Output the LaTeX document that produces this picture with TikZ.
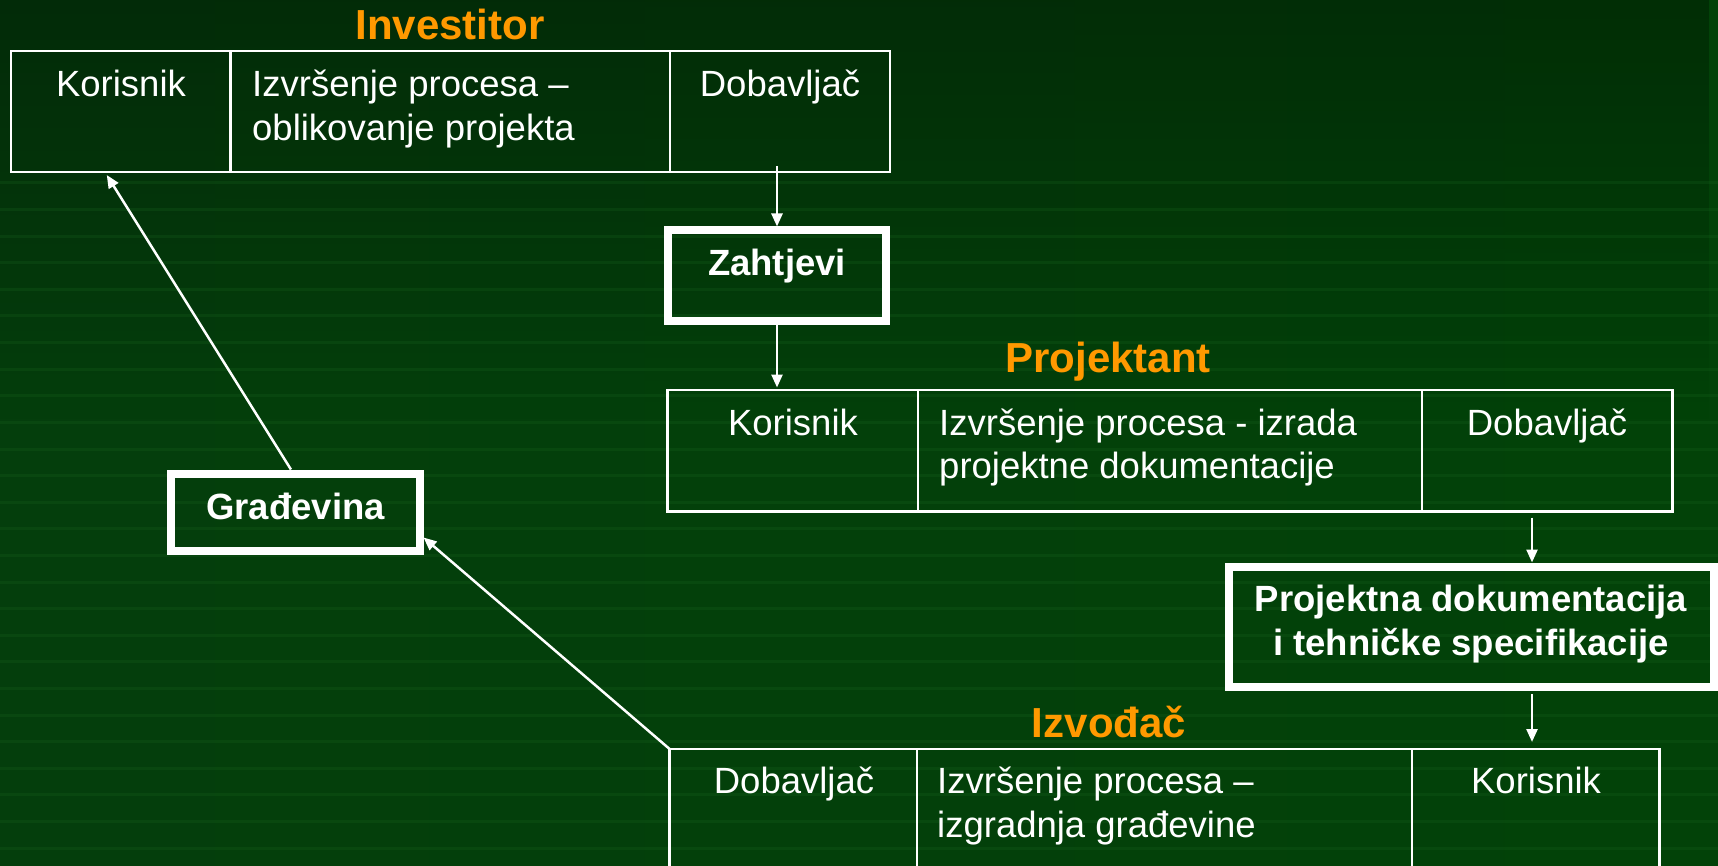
\documentclass[tikz,border=0pt]{standalone}
\usepackage{fontspec}
\setmainfont{Liberation Sans}
\usetikzlibrary{arrows.meta,fadings}

\definecolor{bgleft}{RGB}{4,62,12}
\definecolor{bgmid}{RGB}{0,34,4}
\definecolor{bgright}{RGB}{2,66,8}
\definecolor{streak}{RGB}{24,100,30}
\definecolor{titleorange}{RGB}{255,153,0}

\begin{document}
\begin{tikzpicture}[x=1pt,y=-1pt,
  cell/.style={draw=white, line width=2.5pt, outer sep=0pt, inner sep=0pt, anchor=north west},
  frame/.style={draw=white, line width=8pt, outer sep=4pt, inner sep=0pt},
  title/.style={text=titleorange, font=\fontsize{42}{50}\selectfont\bfseries, inner sep=0pt, anchor=base},
  txt/.style={text=white, font=\fontsize{36.5}{43.5}\selectfont, inner sep=0pt},
  boldtxt/.style={text=white, font=\fontsize{36.5}{44}\selectfont\bfseries, inner sep=0pt},
  arr/.style={draw=white, line width=2.5pt, -{Triangle[length=13pt,width=11pt]}}
]
\useasboundingbox (0,0) rectangle (1718,866);
\clip (0,0) rectangle (1718,866);

% background: green gradient, darker towards the top, with faint streaks
\shade[left color=bgleft, middle color=bgmid, right color=bgright] (0,0) rectangle (1718,866);
\fill[black, fill opacity=0.3, path fading=south] (0,0) rectangle (1718,420);
\foreach \k in {0,...,25} {
  \shade[left color=streak, middle color=bgmid, right color=streak, opacity=0.25]
    (0,{183+26.6*\k-1}) rectangle (1718,{183+26.6*\k+1});
}

% Investitor (multi-line texts are placed by the baseline of their last line)
\node[title] (invT) at (450,40) {Investitor};
\node[cell, minimum width=219.5pt, minimum height=121pt] (invK) at (11,51) {};
\node[cell, minimum width=439.5pt, minimum height=121pt] (invP) at (230.5,51) {};
\node[cell, minimum width=220pt, minimum height=121pt] (invD) at (670,51) {};
\node[txt, anchor=base] (invKt) at (121,97) {Korisnik};
\node[txt, anchor=base west, align=left] (invPt) at (252,140.5) {Izvršenje procesa –\\oblikovanje projekta};
\node[txt, anchor=base] (invDt) at (780,97) {Dobavljač};

% Zahtjevi
\node[frame, minimum width=218pt, minimum height=90.5pt] (zah) at (777,275.75) {};
\node[boldtxt, anchor=base] (zahT) at (777,276) {Zahtjevi};

% Projektant
\node[title] (projT) at (1108,373) {Projektant};
\node[cell, minimum width=250.5pt, minimum height=121.5pt] (projK) at (667.5,390) {};
\node[cell, minimum width=504pt, minimum height=121.5pt] (projP) at (918,390) {};
\node[cell, minimum width=250.5pt, minimum height=121.5pt] (projD) at (1422,390) {};
\node[txt, anchor=base] (projKt) at (793,435) {Korisnik};
\node[txt, anchor=base west, align=left] (projPt) at (939,478.5) {Izvršenje procesa - izrada\\projektne dokumentacije};
\node[txt, anchor=base] (projDt) at (1547,435) {Dobavljač};

% Projektna dokumentacija
\node[frame, minimum width=485.5pt, minimum height=120.5pt] (pdok) at (1471.25,626.75) {};
\node[boldtxt, anchor=base, align=center] (pdokT) at (1471,655) {Projektna dokumentacija\\i tehničke specifikacije};

% Izvođač
\node[title] (izvT) at (1109,737) {Izvođač};
\node[cell, minimum width=247.4pt, minimum height=160pt] (izvD) at (669.6,749) {};
\node[cell, minimum width=495pt, minimum height=160pt] (izvP) at (917,749) {};
\node[cell, minimum width=247.6pt, minimum height=160pt] (izvK) at (1412,749) {};
\node[txt, anchor=base] (izvDt) at (794,793) {Dobavljač};
\node[txt, anchor=base west, align=left] (izvPt) at (937,837) {Izvršenje procesa –\\izgradnja građevine};
\node[txt, anchor=base] (izvKt) at (1536,793) {Korisnik};

% Građevina
\node[frame, minimum width=248.1pt, minimum height=77pt] (grad) at (295.45,512) {};
\node[boldtxt, anchor=base] (gradT) at (295.5,519) {Građevina};

% connectors
\coordinate (colB) at (1532,0);
\coordinate (a1s) at (invD.south -| zah.north);
\coordinate (a2e) at (zah.south |- projK.north);
\coordinate (a3s) at (projD.south -| colB);
\coordinate (a3e) at (pdok.north -| colB);
\coordinate (a4s) at (pdok.south -| colB);
\coordinate (a4e) at (izvK.north -| colB);

\draw[arr] ([yshift=6pt]a1s) -- (zah.north);
\draw[arr] (zah.south) -- ([yshift=2.5pt]a2e);
\draw[arr] ([yshift=-6pt]a3s) -- (a3e);
\draw[arr] ([yshift=-3pt]a4s) -- ([yshift=7pt]a4e);
\draw[arr] (izvD.north west) -- ([yshift=17pt]grad.south east);
\draw[arr] ([xshift=-4.5pt]grad.north) -- ([xshift=-14pt,yshift=-3pt]invK.south);
\end{tikzpicture}
\end{document}
